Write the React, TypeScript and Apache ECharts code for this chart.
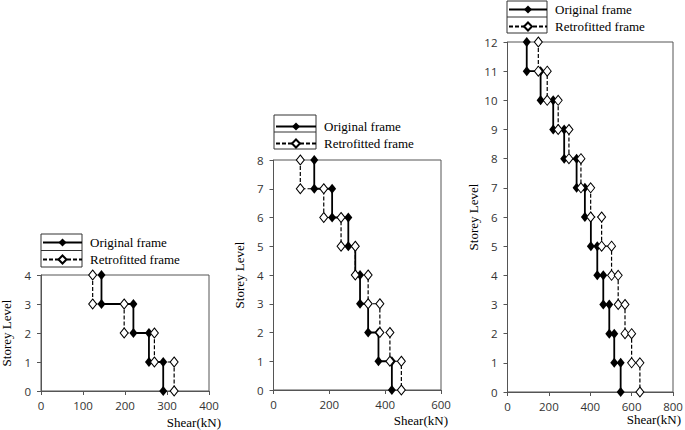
import React, { useEffect, useRef } from "react";
import * as echarts from "echarts";

// Storey shear (kN), listed from storey 1 (bottom) to the top storey
const original4 = [291, 257, 220, 144];
const retrofitted4 = [317, 270, 198, 123];
const original8 = [424, 376, 339, 310, 293, 268, 210, 146];
const retrofitted8 = [458, 417, 381, 339, 293, 242, 180, 96];
const original12 = [547, 516, 492, 463, 434, 403, 374, 334, 274, 221, 160, 93];
const retrofitted12 = [640, 600, 568, 535, 503, 455, 402, 355, 297, 245, 192, 149];

const seriesNames = ["Original frame", "Retrofitted frame"];
const xAxisMax = [400, 600, 800];
const xAxisStep = [100, 200, 200];
const xAxisTitle = "Shear(kN)";
const yAxisTitle = "Storey Level";

const panels = [
  { orig: original4, retro: retrofitted4, grid: { left: 41, top: 275, width: 168, height: 116 }, legendTop: 236, box: [41, 234, 41, 33], nameRight: 12, nameDown: 25 },
  { orig: original8, retro: retrofitted8, grid: { left: 273.5, top: 160, width: 167.5, height: 230 }, legendTop: 120, box: [274, 115, 42, 34], nameRight: 7, nameDown: 24 },
  { orig: original12, retro: retrofitted12, grid: { left: 507.5, top: 42, width: 165.5, height: 350 }, legendTop: 3, box: [507, 1, 40, 32], nameRight: 8, nameDown: 21 },
];

function stepPoints(shear: number[]) {
  const pts: number[][] = [];
  for (let k = shear.length; k >= 1; k--) {
    pts.push([shear[k - 1], k]);
    pts.push([shear[k - 1], k - 1]);
  }
  return pts;
}

const axisColor = "#555555";
const labelFont = { fontFamily: "Open Sans, sans-serif", fontSize: 11.5, color: "#333333" };
const serif = "'Liberation Serif', 'Times New Roman', serif";

export default function App() {
  const ref = useRef<HTMLDivElement>(null);
  useEffect(() => {
    if (!ref.current) return;
    const chart = echarts.init(ref.current, undefined, { renderer: "svg" });
    const grid: any[] = [];
    const xAxis: any[] = [];
    const yAxis: any[] = [];
    const series: any[] = [];
    const legend: any[] = [];
    const graphic: any[] = [];
    panels.forEach((p, i) => {
      grid.push({ ...p.grid, show: true, borderColor: axisColor, borderWidth: 1, backgroundColor: "transparent", containLabel: false, outerBoundsMode: "none" });
      xAxis.push({
        type: "value", gridIndex: i, min: 0, max: xAxisMax[i], interval: xAxisStep[i],
        name: xAxisTitle, nameLocation: "end", nameGap: p.nameRight, nameMoveOverlap: false,
        nameTextStyle: { fontFamily: serif, fontSize: 13, fontWeight: "normal", color: "#000", align: "right", verticalAlign: "top", padding: [p.nameDown, 0, 0, 0] },
        axisLine: { show: true, lineStyle: { color: axisColor } },
        axisTick: { show: true, inside: false, length: 4, lineStyle: { color: axisColor } },
        axisLabel: { ...labelFont, margin: 8 },
        splitLine: { show: false },
      });
      yAxis.push({
        type: "value", gridIndex: i, min: 0, max: p.orig.length, interval: 1,
        name: yAxisTitle, nameLocation: "middle", nameGap: 28, nameRotate: 90, nameMoveOverlap: false,
        nameTextStyle: { fontFamily: serif, fontSize: 13, fontWeight: "normal", color: "#000" },
        axisLine: { show: true, lineStyle: { color: axisColor } },
        axisTick: { show: true, inside: false, length: 4, lineStyle: { color: axisColor } },
        axisLabel: { ...labelFont, margin: 10 },
        splitLine: { show: false },
      });
      series.push({
        name: seriesNames[0], type: "line", xAxisIndex: i, yAxisIndex: i,
        data: stepPoints(p.orig), symbol: "diamond", symbolSize: [8, 10], showSymbol: true,
        itemStyle: { color: "#000" }, lineStyle: { color: "#000", width: 1.8, type: "solid" }, z: 3,
      });
      series.push({
        name: seriesNames[1], type: "line", xAxisIndex: i, yAxisIndex: i,
        data: stepPoints(p.retro), symbol: "diamond", symbolSize: [8, 10], showSymbol: true,
        itemStyle: { color: "#fff", borderColor: "#000", borderWidth: 1 },
        lineStyle: { color: "#000", width: 1.2, type: [4, 2] }, z: 4,
      });
      legend.push({
        data: seriesNames, orient: "vertical", left: p.box[0] + 1, top: p.legendTop, padding: 0,
        itemWidth: p.box[2] - 2, itemHeight: 10, itemGap: 4, selectedMode: false,
        textStyle: { fontFamily: serif, fontSize: 13, color: "#000", padding: [0, 0, 0, 3] },
      });
      const [bx, by, bw, bh] = p.box;
      graphic.push({ type: "rect", shape: { x: bx, y: by, width: bw, height: bh }, style: { fill: "none", stroke: "#333", lineWidth: 1 }, silent: true, z: -1 });
      graphic.push({ type: "line", shape: { x1: bx, y1: by + bh / 2, x2: bx + bw, y2: by + bh / 2 }, style: { stroke: "#333", lineWidth: 1 }, silent: true, z: -1 });
    });
    chart.setOption({ animation: false, grid, xAxis, yAxis, series, legend, graphic });
    return () => chart.dispose();
  }, []);
  return <div ref={ref} style={{ position: "fixed", left: 0, top: 0, width: 685, height: 430, background: "#fff" }} />;
}
